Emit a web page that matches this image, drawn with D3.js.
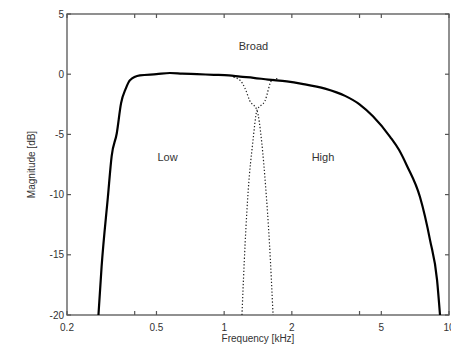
<!DOCTYPE html>
<html>
<head>
<meta charset="utf-8">
<script src="https://cdn.jsdelivr.net/npm/d3@7"></script>
<style>
body { margin: 0; background: #fff; }
svg text { font-family: "Liberation Sans", Arial, sans-serif; fill: #333; }
</style>
</head>
<body>
<svg width="451" height="352"></svg>
<script>
// broad band response (solid)
var broadFreq = [0.276, 0.285, 0.304, 0.316, 0.333, 0.348, 0.365, 0.381, 0.422, 0.5, 0.574, 0.65, 0.757, 0.9, 1.05, 1.177, 1.35, 1.57, 1.9, 2.22, 2.81, 3.45, 4.0, 4.59, 5.47, 6.0, 6.5, 7.43, 8.24, 8.85, 9.12];
var broadDb = [-20, -16, -10.2, -6.8, -4.9, -2.4, -1.2, -0.5, -0.1, 0, 0.1, 0.05, 0, -0.05, -0.1, -0.2, -0.3, -0.45, -0.6, -0.8, -1.2, -1.8, -2.5, -3.5, -5.2, -6.3, -7.6, -10.2, -13.8, -17.1, -20];

// low band (dotted)
var lowFreq = [1.1, 1.177, 1.24, 1.30, 1.40, 1.47, 1.53, 1.59, 1.65];
var lowDb = [-0.25, -0.5, -1.2, -2.2, -3.0, -5.7, -9.4, -14, -20];

// high band (dotted)
var highFreq = [1.20, 1.24, 1.28, 1.34, 1.40, 1.52, 1.63, 1.75];
var highDb = [-20, -14, -9.6, -5.7, -3.0, -2.2, -0.5, -0.35];

var xTicks = [0.2, 0.4, 0.5, 1, 2, 4, 5, 10];
var xLabels = [0.2, 0.5, 1, 2, 5, 10];
var yTicks = [-20, -15, -10, -5, 0, 5];

var labels = [
	{text: "Broad", f: 1.35, db: 2.0},
	{text: "Low", f: 0.56, db: -7.2},
	{text: "High", f: 2.75, db: -7.2}
];

var svg = d3.select("svg");
var pLeft = 67, pRight = 449, pTop = 14, pBottom = 315;

var x = d3.scaleLog().domain([0.2, 10]).range([pLeft, pRight]);
var y = d3.scaleLinear().domain([-20, 5]).range([pBottom, pTop]);

var axisColor = "#555";

// box
svg.append("rect")
	.attr("x", pLeft).attr("y", pTop)
	.attr("width", pRight - pLeft).attr("height", pBottom - pTop)
	.attr("fill", "none")
	.attr("stroke", axisColor)
	.attr("stroke-width", 1.3);

// ticks, pointing inward on all four sides
xTicks.forEach(function (t) {
	svg.append("line").attr("x1", x(t)).attr("x2", x(t)).attr("y1", pBottom).attr("y2", pBottom - 4)
		.attr("stroke", axisColor).attr("stroke-width", 1.2);
	svg.append("line").attr("x1", x(t)).attr("x2", x(t)).attr("y1", pTop).attr("y2", pTop + 4)
		.attr("stroke", axisColor).attr("stroke-width", 1.2);
});
yTicks.forEach(function (t) {
	svg.append("line").attr("x1", pLeft).attr("x2", pLeft + 4).attr("y1", y(t)).attr("y2", y(t))
		.attr("stroke", axisColor).attr("stroke-width", 1.2);
	svg.append("line").attr("x1", pRight).attr("x2", pRight - 4).attr("y1", y(t)).attr("y2", y(t))
		.attr("stroke", axisColor).attr("stroke-width", 1.2);
});

svg.selectAll(".xlab")
	.data(xLabels)
	.enter()
	.append("text")
	.attr("class", "xlab")
	.attr("x", function (d) { return x(d); })
	.attr("y", pBottom + 16)
	.attr("text-anchor", "middle")
	.attr("font-size", 10)
	.text(function (d) { return d; });

svg.selectAll(".ylab")
	.data(yTicks)
	.enter()
	.append("text")
	.attr("class", "ylab")
	.attr("x", pLeft - 3)
	.attr("y", function (d) { return y(d) + 3.5; })
	.attr("text-anchor", "end")
	.attr("font-size", 10)
	.text(function (d) { return d; });

svg.append("text")
	.attr("x", (pLeft + pRight) / 2)
	.attr("y", 342)
	.attr("text-anchor", "middle")
	.attr("font-size", 10)
	.text("Frequency [kHz]");

svg.append("text")
	.attr("transform", "translate(35," + ((pTop + pBottom) / 2) + ") rotate(-90)")
	.attr("text-anchor", "middle")
	.attr("font-size", 10)
	.text("Magnitude [dB]");

// frequency always increases along each curve, so monotone-x keeps them smooth
var line = d3.line()
	.x(function (d) { return x(d[0]); })
	.y(function (d) { return y(d[1]); })
	.curve(d3.curveMonotoneX);

svg.append("path")
	.datum(d3.zip(lowFreq, lowDb))
	.attr("d", line)
	.attr("fill", "none")
	.attr("stroke", "#222")
	.attr("stroke-width", 1.2)
	.attr("stroke-dasharray", "1.3,2");

svg.append("path")
	.datum(d3.zip(highFreq, highDb))
	.attr("d", line)
	.attr("fill", "none")
	.attr("stroke", "#222")
	.attr("stroke-width", 1.2)
	.attr("stroke-dasharray", "1.3,2");

svg.append("path")
	.datum(d3.zip(broadFreq, broadDb))
	.attr("d", line)
	.attr("fill", "none")
	.attr("stroke", "#000")
	.attr("stroke-width", 2.2)
	.attr("stroke-linejoin", "round");

svg.selectAll(".lbl")
	.data(labels)
	.enter()
	.append("text")
	.attr("class", "lbl")
	.attr("x", function (d) { return x(d.f); })
	.attr("y", function (d) { return y(d.db); })
	.attr("text-anchor", "middle")
	.attr("font-size", 11)
	.text(function (d) { return d.text; });
</script>
</body>
</html>
